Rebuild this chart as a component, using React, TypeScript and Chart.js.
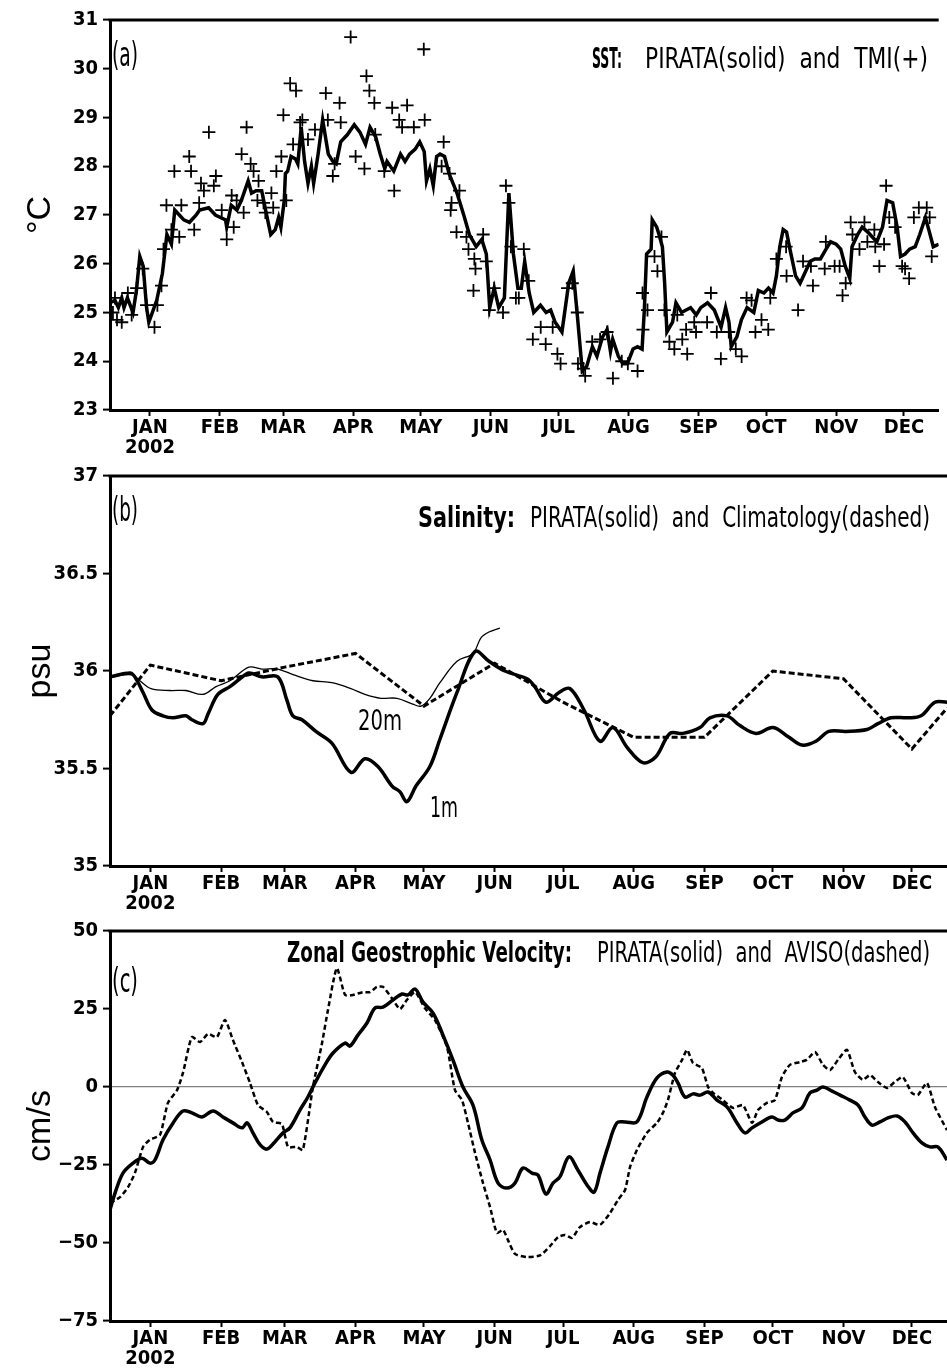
import React, { useEffect, useRef } from 'react';
import { Chart, registerables } from 'chart.js';

Chart.register(...registerables);

// ---------- axis definitions (x unit: days since 1 Jan 2002) ----------
const X_MIN = -17.7;
const X_MAX = 349.4;
const monthStartDays = [0, 31, 59, 90, 120, 151, 181, 212, 243, 273, 304, 334];
const monthLabels: (string | string[])[] = [['JAN', '2002'], 'FEB', 'MAR', 'APR', 'MAY', 'JUN', 'JUL', 'AUG', 'SEP', 'OCT', 'NOV', 'DEC'];

// ---------- (a) SST ----------
const sstPirataDays = [-17.7, -15.5, -14, -12.5, -11.5, -10, -7.5, -6, -4.5, -3, -1.5, -0.5, 3, 5.5, 7.5, 9.5, 11, 13, 15, 17.5, 20.5, 22, 26, 29, 33.5, 34, 36, 38.5, 40.5, 43.5, 45, 47, 49.5, 51, 53.5, 55.5, 57, 58, 59.5, 60, 61, 62.5, 64.5, 65.5, 67, 68.5, 70, 71.5, 72.5, 74.5, 76.5, 79, 81, 82.5, 84.5, 87.5, 90.5, 93, 95.5, 97.5, 100, 102, 104, 105, 108, 111, 113, 115, 117.5, 119.5, 121.5, 122.5, 124, 125.5, 127, 128.5, 130.5, 132.5, 136, 139, 141.5, 144.5, 147, 149, 150.5, 152.5, 154.5, 157, 159, 161, 163, 164.5, 166, 168, 170, 173, 175.5, 177.5, 179.5, 182.5, 185.5, 187.5, 189.5, 191.5, 193.5, 196, 198, 200.5, 202.5, 204, 205, 207.5, 209.5, 211.5, 214, 216, 218, 219, 220, 222, 222.5, 224.5, 225.5, 227, 228, 229, 231.5, 233, 235.5, 237.5, 239.5, 242, 244, 247, 250, 253, 255, 256.5, 257.5, 260, 262, 264.5, 267.5, 269.5, 272, 274, 276, 277.5, 279, 280.5, 282, 283.5, 286, 288, 290, 292.5, 294.5, 297, 299.5, 301.5, 304, 306, 308, 310, 311, 313.5, 315.5, 318, 320, 322, 324.5, 326.5, 329, 331, 332.5, 334.5, 336.5, 339, 341, 343.5, 345, 347, 349.4];
const sstPirata = [25.2, 25.25, 25.1, 25.3, 25.1, 25.3, 25.0, 25.45, 26.15, 25.95, 25.1, 24.8, 25.25, 25.8, 26.6, 26.4, 27.1, 27.0, 26.9, 26.85, 27.0, 27.1, 27.15, 27.0, 26.9, 26.75, 27.2, 27.1, 27.3, 27.7, 27.45, 27.5, 27.5, 27.15, 26.6, 26.7, 26.95, 26.75, 27.3, 27.85, 27.9, 28.2, 28.15, 28.05, 28.8, 28.1, 27.65, 28.0, 27.65, 28.25, 28.95, 28.25, 28.1, 28.05, 28.5, 28.65, 28.85, 28.7, 28.45, 28.8, 28.6, 28.25, 27.95, 28.1, 27.9, 28.25, 28.1, 28.25, 28.35, 28.5, 28.3, 27.7, 27.95, 27.6, 28.2, 28.25, 28.2, 27.85, 27.45, 27.0, 26.6, 26.35, 26.5, 26.2, 25.1, 25.5, 25.1, 25.3, 27.45, 26.2, 25.5, 25.5, 26.05, 25.4, 25.0, 25.15, 25.0, 25.05, 24.8, 24.6, 25.6, 25.85, 24.85, 23.8, 23.9, 24.3, 24.1, 24.5, 24.65, 24.2, 24.45, 24.1, 23.95, 23.95, 24.25, 24.3, 24.25, 25.05, 26.2, 26.3, 26.9, 26.75, 26.6, 26.35, 25.6, 24.6, 24.8, 25.2, 25.0, 25.05, 25.1, 24.95, 25.1, 25.2, 25.05, 24.7, 25.1, 24.8, 24.3, 24.5, 24.85, 25.1, 25.0, 25.45, 25.4, 25.5, 25.4, 25.75, 26.35, 26.7, 26.65, 26.3, 25.75, 25.6, 25.8, 26.05, 26.1, 26.1, 26.3, 26.45, 26.4, 26.3, 25.95, 25.7, 26.35, 26.6, 26.75, 26.65, 26.55, 26.45, 26.75, 27.3, 27.25, 26.75, 26.15, 26.2, 26.3, 26.35, 26.6, 26.95, 26.7, 26.35, 26.4];

const tmiDays = [-16.4, -15.5, -14.6, -12.5, -9.8, -8.1, -5.9, -3.2, -1.5, 2.0, 3.3, 5.1, 6.0, 7.3, 9.5, 10.8, 13.0, 13.9, 17.4, 18.2, 19.6, 21.8, 22.6, 23.9, 26.1, 28.3, 29.2, 31.8, 34.0, 36.2, 37.1, 38.4, 40.6, 41.5, 42.8, 44.6, 45.9, 47.6, 48.1, 50.3, 51.1, 53.8, 54.6, 56.0, 58.2, 59.1, 60.4, 62.1, 63.4, 64.7, 66.5, 67.5, 70.0, 73.1, 77.9, 78.8, 81.0, 81.8, 84.0, 84.5, 88.9, 91.1, 95.0, 95.9, 97.2, 99.4, 99.8, 103.8, 107.3, 108.2, 110.4, 111.7, 113.9, 116.9, 121.3, 121.7, 129.2, 130.1, 132.7, 133.2, 133.6, 135.8, 137.1, 140.2, 141.1, 143.3, 143.7, 144.2, 147.6, 149.0, 150.3, 152.5, 156.4, 157.7, 159.0, 159.9, 162.1, 163.4, 165.6, 167.8, 169.6, 173.1, 175.3, 178.4, 180.5, 181.9, 185.0, 187.1, 189.3, 189.6, 192.0, 192.8, 195.9, 199.4, 202.5, 205.1, 209.0, 211.7, 216.0, 218.2, 218.4, 220.4, 223.5, 224.8, 226.6, 227.9, 230.1, 232.3, 233.6, 235.8, 237.5, 238.0, 241.1, 241.9, 246.8, 248.5, 251.1, 252.9, 256.4, 259.5, 262.1, 264.3, 266.5, 268.2, 270.9, 273.9, 274.8, 277.5, 281.8, 282.0, 287.1, 289.3, 292.8, 293.7, 298.9, 299.4, 303.3, 305.5, 306.8, 308.2, 310.4, 311.2, 314.3, 316.5, 317.8, 320.9, 321.3, 323.1, 325.2, 326.1, 327.5, 330.1, 333.2, 334.5, 336.3, 338.4, 340.6, 344.1, 345.4, 346.3];
const tmiValues = [25.0, 25.3, 24.85, 24.8, 25.4, 24.95, 25.5, 25.9, 25.15, 24.7, 25.15, 25.55, 26.3, 27.2, 26.7, 27.9, 26.55, 27.2, 28.2, 27.9, 26.7, 27.25, 27.65, 27.5, 28.7, 27.6, 27.8, 27.1, 26.5, 27.4, 26.75, 27.3, 28.25, 27.05, 28.8, 28.05, 27.9, 27.3, 27.7, 27.25, 27.05, 27.45, 27.15, 27.9, 28.2, 29.05, 27.3, 29.7, 28.45, 29.55, 28.9, 28.95, 28.55, 28.75, 29.5, 28.95, 27.8, 28.05, 29.3, 28.9, 30.65, 28.2, 27.95, 29.85, 29.55, 29.3, 28.65, 27.9, 29.2, 27.5, 28.95, 28.8, 29.25, 28.8, 30.4, 28.95, 28.0, 28.5, 27.85, 27.1, 27.25, 26.65, 27.5, 26.55, 26.3, 25.45, 26.1, 25.9, 26.6, 26.05, 25.05, 25.5, 25.0, 27.6, 27.25, 26.35, 25.3, 25.3, 26.3, 25.65, 24.45, 24.7, 24.35, 24.7, 24.15, 23.95, 25.5, 25.6, 25.0, 23.95, 23.85, 23.7, 24.4, 24.45, 24.6, 23.65, 24.0, 23.95, 23.8, 25.4, 24.65, 25.05, 26.15, 25.85, 26.55, 25.05, 24.4, 24.25, 24.95, 24.45, 24.65, 24.15, 24.8, 24.6, 24.8, 25.4, 24.6, 24.05, 24.6, 24.25, 24.1, 25.3, 25.25, 24.6, 24.85, 24.65, 25.3, 26.1, 26.35, 25.75, 25.05, 26.05, 25.95, 25.55, 25.9, 26.45, 25.95, 25.95, 25.35, 25.6, 26.85, 26.6, 26.3, 26.85, 26.45, 26.7, 26.35, 25.95, 26.4, 27.6, 26.95, 26.75, 25.95, 25.9, 25.7, 26.95, 27.15, 27.15, 26.95, 26.15];

// ---------- (b) Salinity ----------
const sal1mDays = [-17.7, -8.9, -6.8, -3.2, 0.7, 5.5, 9.9, 15.6, 18.2, 23.1, 25.3, 29.6, 34.9, 39.3, 43.2, 48.9, 55.9, 59.9, 62.5, 66.5, 72.6, 79.6, 88.0, 94.1, 99.8, 106.0, 109.5, 112.5, 116.5, 122.6, 127.0, 134.5, 142.4, 148.5, 155.5, 165.2, 168.6, 173.5, 179.2, 184.0, 190.2, 197.2, 202.9, 209.0, 216.0, 221.7, 227.9, 233.6, 241.1, 245.4, 252.9, 258.6, 265.6, 273.1, 280.1, 285.8, 291.9, 297.6, 305.1, 314.3, 319.1, 324.8, 332.3, 338.0, 344.1, 349.4];
const sal1m = [35.97, 35.99, 35.97, 35.89, 35.80, 35.77, 35.76, 35.77, 35.75, 35.73, 35.78, 35.88, 35.92, 35.96, 35.99, 35.97, 35.97, 35.85, 35.77, 35.75, 35.69, 35.63, 35.48, 35.55, 35.51, 35.41, 35.38, 35.33, 35.41, 35.51, 35.65, 35.89, 36.10, 36.05, 36.00, 35.96, 35.92, 35.84, 35.89, 35.91, 35.80, 35.64, 35.71, 35.61, 35.53, 35.56, 35.68, 35.68, 35.71, 35.76, 35.77, 35.72, 35.68, 35.71, 35.66, 35.62, 35.64, 35.69, 35.69, 35.70, 35.73, 35.76, 35.76, 35.77, 35.84, 35.84];
const sal20mDays = [-17.7, -8.1, -4.6, 0.3, 8.6, 15.6, 23.1, 28.8, 34.9, 43.2, 48.9, 55.9, 62.9, 71.3, 79.6, 88.0, 94.1, 101.1, 108.2, 115.1, 118.7, 122.6, 127.0, 134.5, 141.5, 145.0, 148.5, 153.3];
const sal20m = [35.97, 35.98, 35.95, 35.91, 35.90, 35.90, 35.88, 35.92, 35.95, 36.02, 36.01, 36.01, 35.98, 35.95, 35.94, 35.91, 35.88, 35.86, 35.86, 35.83, 35.82, 35.86, 35.94, 36.05, 36.09, 36.17, 36.20, 36.22];
const salClimDays = [-17.7, 0, 31, 59, 90, 120, 151, 181, 212, 243, 273, 304, 334, 349.4];
const salClim = [35.77, 36.03, 35.95, 36.02, 36.09, 35.82, 36.04, 35.84, 35.66, 35.66, 36.0, 35.96, 35.6, 35.81];

// ---------- (c) Zonal geostrophic velocity ----------
const uPirataDays = [-17.7, -15.5, -12.0, -7.6, -3.7, -0.2, 2.0, 5.5, 9.9, 14.3, 18.2, 22.6, 27.5, 31.8, 36.2, 40.2, 42.4, 45.0, 48.1, 51.1, 54.6, 58.2, 61.2, 65.6, 69.1, 72.2, 76.6, 80.1, 85.4, 87.5, 91.1, 95.0, 98.5, 102.0, 106.4, 110.4, 113.0, 116.1, 119.6, 124.0, 128.3, 132.7, 137.1, 141.5, 145.4, 149.0, 152.5, 156.4, 159.9, 163.4, 167.4, 170.0, 173.5, 176.6, 179.6, 183.6, 187.5, 191.5, 194.6, 197.2, 200.7, 204.6, 208.2, 213.4, 217.8, 222.2, 226.6, 229.2, 231.4, 234.5, 238.0, 241.1, 244.6, 248.5, 252.9, 257.3, 260.8, 263.9, 268.2, 272.6, 275.3, 278.3, 281.8, 285.8, 289.3, 292.4, 295.0, 299.0, 302.5, 306.8, 310.4, 313.4, 316.5, 320.0, 323.5, 327.5, 331.0, 334.5, 338.4, 341.9, 345.4, 349.4];
const uPirata = [-39.4, -34.0, -27.6, -24.4, -22.8, -24.4, -23.4, -17.0, -11.6, -7.7, -8.3, -9.6, -7.7, -9.6, -11.5, -13.1, -11.5, -14.7, -18.5, -19.9, -17.6, -14.7, -13.1, -7.4, -3.2, 1.3, 7.1, 10.9, 14.1, 13.1, 16.7, 20.5, 25.3, 25.6, 27.9, 29.8, 29.5, 31.4, 27.2, 23.7, 16.7, 8.7, 0.0, -5.8, -17.0, -23.4, -30.8, -32.4, -30.8, -26.0, -27.6, -28.2, -34.3, -30.8, -28.8, -22.4, -26.6, -31.4, -33.7, -27.6, -19.2, -11.5, -11.2, -11.2, -3.2, 2.9, 4.8, 3.8, 1.3, -3.2, -2.2, -2.6, -1.6, -4.2, -6.4, -11.5, -14.7, -13.1, -11.2, -9.6, -10.6, -10.6, -8.3, -6.7, -1.9, -1.0, 0.0, -1.3, -2.6, -4.2, -5.8, -9.6, -12.2, -11.2, -9.9, -9.3, -11.2, -14.7, -17.9, -19.2, -19.2, -23.4];
const uAvisoDays = [-17.7, -13.3, -9.8, -6.8, -3.2, -0.2, 4.2, 7.7, 11.7, 14.3, 18.2, 21.8, 25.3, 29.2, 32.7, 36.2, 40.2, 43.7, 47.2, 51.1, 53.8, 57.7, 60.4, 64.3, 66.9, 71.3, 75.3, 77.9, 81.8, 85.4, 88.9, 93.2, 96.3, 99.4, 102.0, 105.9, 109.5, 112.5, 116.1, 120.4, 124.8, 130.1, 133.6, 136.7, 139.3, 142.4, 145.9, 149.0, 152.0, 154.7, 156.8, 159.9, 165.2, 170.9, 175.3, 178.8, 181.9, 184.9, 188.4, 192.8, 197.2, 201.6, 205.1, 208.2, 210.4, 213.4, 217.8, 222.2, 224.8, 227.0, 230.1, 233.2, 235.4, 238.0, 241.9, 244.6, 246.8, 251.1, 255.5, 259.9, 263.9, 266.5, 270.4, 273.9, 277.0, 280.5, 284.9, 287.9, 291.5, 295.0, 298.1, 301.6, 305.5, 309.0, 312.5, 315.6, 319.1, 323.0, 326.5, 330.0, 334.0, 336.6, 340.6, 344.1, 349.4];
const uAviso = [-37.2, -35.3, -32.1, -27.6, -19.2, -16.9, -15.4, -5.1, -1.0, 4.5, 16.0, 14.4, 17.0, 16.0, 21.5, 15.1, 8.0, 1.3, -5.8, -8.0, -11.2, -11.9, -19.2, -19.2, -20.2, 0.0, 14.1, 24.7, 38.1, 29.5, 29.5, 30.4, 30.4, 32.1, 32.1, 28.5, 25.0, 27.9, 30.4, 25.3, 21.5, 12.8, -1.0, -4.2, -11.5, -21.1, -30.8, -38.5, -46.8, -45.8, -49.0, -53.5, -54.5, -54.0, -51.0, -48.1, -47.4, -48.4, -44.9, -43.3, -44.2, -40.4, -36.2, -33.0, -25.6, -20.2, -14.7, -11.5, -8.3, -4.2, 4.5, 8.7, 11.9, 7.7, 6.1, 0.0, -1.9, -4.2, -6.7, -5.8, -11.5, -7.4, -5.1, -4.2, 3.2, 7.1, 8.0, 8.7, 11.2, 7.1, 5.4, 8.7, 11.9, 4.8, 2.3, 3.8, 1.6, -0.3, 1.6, 3.2, -1.9, -2.6, 1.3, -6.4, -13.8];

// ---------- styling ----------
const NARROW = "'Liberation Sans Narrow','Arial Narrow','DejaVu Sans Condensed','Liberation Sans',sans-serif";
const TICK_FONT = { family: NARROW, size: 20, weight: 'bold' as const, lineHeight: 1.0 };
const AXIS_TITLE_FONT = { family: "'Liberation Sans',Arial,sans-serif", size: 34, weight: 'normal' as const, lineHeight: 1.2 };

const pts = (xs: number[], ys: number[]) => xs.map((x, i) => ({ x, y: ys[i] }));

function drawFitted(ctx: CanvasRenderingContext2D, text: string, x0: number, x1: number, baseline: number, font: string) {
  ctx.save();
  ctx.font = font;
  const w = ctx.measureText(text).width || 1;
  const sx = (x1 - x0) / w;
  ctx.translate(x0, baseline);
  ctx.scale(sx, 1);
  ctx.textAlign = 'left';
  ctx.textBaseline = 'alphabetic';
  ctx.fillStyle = '#000';
  ctx.fillText(text, 0, 0);
  ctx.restore();
}

const frameAndText = {
  id: 'frameAndText',
  afterDraw(chart: any, _args: any, opts: any) {
    const { ctx, chartArea } = chart;
    ctx.save();
    ctx.strokeStyle = '#000';
    ctx.lineWidth = 3;
    ctx.beginPath();
    ctx.moveTo(chartArea.left - 1.5, chartArea.top);
    ctx.lineTo(chartArea.right, chartArea.top);
    ctx.stroke();
    ctx.restore();
    (opts.texts || []).forEach((t: any) => {
      if (t.day !== undefined) {
        const x0 = chart.scales.x.getPixelForValue(t.day);
        const base = chart.scales.y.getPixelForValue(t.value);
        drawFitted(ctx, t.text, x0, x0 + t.width, base, t.font);
      } else {
        drawFitted(ctx, t.text, t.x0, t.x1, chartArea.top + t.dy, t.font);
      }
    });
  },
};

type PanelCfg = {
  yMin: number; yMax: number; yStep: number; yTitle: string;
  xAxisHeight: number; zeroLine?: boolean; texts: any[]; datasets: any[];
};

function makeConfig(p: PanelCfg): any {
  return {
    type: 'line',
    data: { datasets: p.datasets },
    options: {
      responsive: false,
      animation: false,
      devicePixelRatio: 1,
      layout: { padding: { top: 20, left: 0, right: 0, bottom: 0 } },
      plugins: { legend: { display: false }, tooltip: { enabled: false }, frameAndText: { texts: p.texts } },
      elements: { point: { radius: 0 } },
      scales: {
        x: {
          type: 'linear', min: X_MIN, max: X_MAX,
          afterBuildTicks: (scale: any) => { scale.ticks = monthStartDays.map((v) => ({ value: v })); },
          afterFit: (scale: any) => { scale.height = p.xAxisHeight; },
          ticks: {
            autoSkip: false, maxRotation: 0, minRotation: 0, padding: 2, color: '#000', font: TICK_FONT,
            callback: (_v: any, i: number) => monthLabels[i],
          },
          grid: { drawOnChartArea: false, drawTicks: true, tickLength: 6, tickWidth: 2, tickColor: '#000' },
          border: { display: true, width: 3, color: '#000' },
        },
        y: {
          type: 'linear', min: p.yMin, max: p.yMax,
          afterFit: (scale: any) => { scale.width = 110; },
          ticks: {
            stepSize: p.yStep, padding: 5, color: '#000', font: TICK_FONT,
            callback: (v: number) => (v < 0 ? '\u2212' + Math.abs(v) : String(v)),
          },
          grid: {
            drawOnChartArea: !!p.zeroLine, drawTicks: true, tickLength: 7, tickWidth: 2, tickColor: '#000', lineWidth: 1.2,
            color: (c: any) => (p.zeroLine && c.tick && c.tick.value === 0 ? '#808080' : 'rgba(0,0,0,0)'),
          },
          border: { display: true, width: 3, color: '#000' },
          title: { display: true, text: p.yTitle, color: '#000', font: AXIS_TITLE_FONT, padding: { top: 20, bottom: 0 } },
        },
      },
    },
    plugins: [frameAndText],
  };
}

const panelA = (): PanelCfg => ({
  yMin: 23, yMax: 31, yStep: 1, yTitle: '°C', xAxisHeight: 55,
  texts: [
    { text: '(a)', x0: 112, x1: 138, dy: 46, font: `normal 34px ${NARROW}` },
    { text: 'SST:', x0: 592, x1: 622, dy: 48, font: `bold 28px ${NARROW}` },
    { text: 'PIRATA(solid)  and  TMI(+)', x0: 645, x1: 928, dy: 48, font: `normal 28px ${NARROW}` },
  ],
  datasets: [
    { label: 'PIRATA', data: pts(sstPirataDays, sstPirata), borderColor: '#000', borderWidth: 3.5, tension: 0, pointRadius: 0 },
    { label: 'TMI', data: pts(tmiDays, tmiValues), showLine: false, pointStyle: 'cross', pointRadius: 6.5, pointBorderWidth: 1.8, borderColor: '#000', pointBorderColor: '#000' },
  ],
});

const panelB = (): PanelCfg => ({
  yMin: 35, yMax: 37, yStep: 0.5, yTitle: 'psu', xAxisHeight: 55,
  texts: [
    { text: '(b)', x0: 112, x1: 138, dy: 45, font: `normal 34px ${NARROW}` },
    { text: 'Salinity:', x0: 418, x1: 515, dy: 51, font: `bold 28px ${NARROW}` },
    { text: 'PIRATA(solid)  and  Climatology(dashed)', x0: 530, x1: 930, dy: 51, font: `normal 28px ${NARROW}` },
    { text: '20m', day: 91.1, value: 35.70, width: 44, font: `normal 28px ${NARROW}` },
    { text: '1m', day: 122.6, value: 35.25, width: 28, font: `normal 28px ${NARROW}` },
  ],
  datasets: [
    { label: '1m', data: pts(sal1mDays, sal1m), borderColor: '#000', borderWidth: 3.5, tension: 0.35, pointRadius: 0 },
    { label: '20m', data: pts(sal20mDays, sal20m), borderColor: '#000', borderWidth: 1.3, tension: 0.35, pointRadius: 0 },
    { label: 'Climatology', data: pts(salClimDays, salClim), borderColor: '#000', borderWidth: 3, borderDash: [6, 3], tension: 0, pointRadius: 0 },
  ],
});

const panelC = (): PanelCfg => ({
  yMin: -75, yMax: 50, yStep: 25, yTitle: 'cm/s', xAxisHeight: 47, zeroLine: true,
  texts: [
    { text: '(c)', x0: 112, x1: 138, dy: 61, font: `normal 34px ${NARROW}` },
    { text: 'Zonal Geostrophic Velocity:', x0: 287, x1: 572, dy: 31, font: `bold 28px ${NARROW}` },
    { text: 'PIRATA(solid)  and  AVISO(dashed)', x0: 597, x1: 930, dy: 31, font: `normal 28px ${NARROW}` },
  ],
  datasets: [
    { label: 'PIRATA', data: pts(uPirataDays, uPirata), borderColor: '#000', borderWidth: 3.5, tension: 0.35, pointRadius: 0 },
    { label: 'AVISO', data: pts(uAvisoDays, uAviso), borderColor: '#000', borderWidth: 2.5, borderDash: [5, 3], tension: 0.2, pointRadius: 0 },
  ],
});

function Panel({ top, height, build }: { top: number; height: number; build: () => PanelCfg }) {
  const ref = useRef<HTMLCanvasElement | null>(null);
  useEffect(() => {
    if (!ref.current) return;
    const chart = new Chart(ref.current, makeConfig(build()));
    return () => chart.destroy();
  }, []);
  return (
    <canvas
      ref={ref}
      width={947}
      height={height}
      style={{ position: 'absolute', left: 0, top, width: 947, height, display: 'block' }}
    />
  );
}

export default function App() {
  return (
    <div style={{ position: 'absolute', left: 0, top: 0, width: 947, height: 1368, overflow: 'hidden', background: '#fff' }}>
      <Panel top={0} height={465} build={panelA} />
      <Panel top={456} height={465} build={panelB} />
      <Panel top={911} height={457} build={panelC} />
    </div>
  );
}
